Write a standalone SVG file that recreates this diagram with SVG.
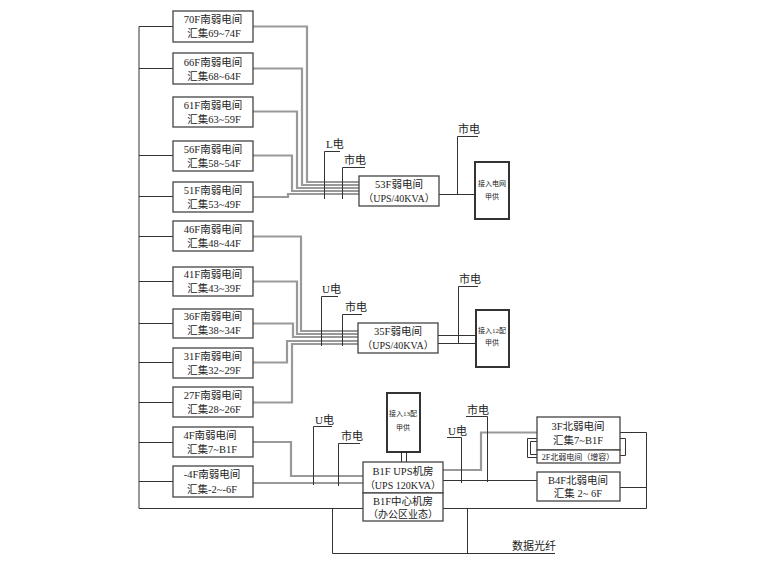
<svg xmlns="http://www.w3.org/2000/svg" width="760" height="570" viewBox="0 0 760 570">
<style>
text{font-family:"Liberation Serif","Noto Sans CJK SC",sans-serif;fill:#222;font-size:10.5px;text-anchor:middle}
.box{fill:#fff;stroke:#444;stroke-width:1.3}
.tbox{fill:#fff;stroke:#333;stroke-width:2}
.ln{fill:none;stroke:#333;stroke-width:1}
.cab{fill:none;stroke:#999;stroke-width:2.2}
.lbl{text-anchor:start;font-size:11px}
.sm{font-size:7px}
.s8{font-size:8px}
.s10{font-size:10px}
</style>
<rect width="760" height="570" fill="#fff"/>
<g id="connectors">
<path class="ln" d="M139,26.5 V508.5 H646.5 V432.5 H620 M646.5,487.5 H620"/>
<path class="ln" d="M139,26.5 H173 M139,68.5 H173 M139,155.5 H173 M139,196.5 H173 M139,236.5 H173 M139,281.5 H173 M139,323.5 H173 M139,362.5 H173 M139,402.5 H173 M139,442.5 H173 M139,481.5 H173"/>
<path class="ln" d="M332.5,508 V553.5 H555 M467.5,508 V553.5"/>
<!-- 53F group cables -->
<path class="cab" d="M253,26.5 H307 V182 H359"/>
<path class="cab" d="M253,68.5 H302 V185 H359"/>
<path class="cab" d="M253,111.5 H297 V188 H359"/>
<path class="cab" d="M253,155.5 H292 V191 H359"/>
<path class="cab" d="M253,197 H288 V194 H359"/>
<path class="ln" d="M340,151.5 H324.5 V199 M365,167.5 H342.5 V199"/>
<path class="ln" d="M439,194.5 H475 M478,136.5 H457.5 V194"/>
<!-- 35F group cables -->
<path class="cab" d="M253,236.5 H301 V331 H358"/>
<path class="cab" d="M253,281.5 H297 V334 H358"/>
<path class="cab" d="M253,323.5 H293 V337 H358"/>
<path class="cab" d="M253,362.5 H287 V341 H358"/>
<path class="cab" d="M253,402.5 H292 V344 H358"/>
<path class="ln" d="M338,296.5 H321.5 V346 M362,314.5 H342.5 V346"/>
<path class="ln" d="M438,335.5 H476 M438,343.5 H476 M478,286.5 H458.5 V343"/>
<!-- B1F group cables -->
<path class="cab" d="M253,442 H291 V476 H363"/>
<path class="cab" d="M253,483 H363"/>
<path class="ln" d="M332,426.5 H313.5 V485 M360,443.5 H338.5 V486"/>
<path class="ln" d="M401.5,452 V462 M406.5,452 V462"/>
<path class="cab" d="M443,470 H481 V432.5 H537"/>
<path class="ln" d="M443,480.5 H537"/>
<path class="ln" d="M466,416.5 H487.5 V482 M447,437.5 H461.5 V483"/>
<path class="ln" d="M537,438.5 H527.5 V457.5 H537 M537,441.5 H530.5 V454.5 H537 M620,455.5 H625.5 V438.5 H620"/>
</g>
<g id="n70"><rect class="box" x="173" y="11" width="80" height="31"/><text x="213" y="23">70F南弱电间</text><text x="214" y="37">汇集69~74F</text></g>
<g id="n66"><rect class="box" x="173" y="53" width="80" height="31"/><text x="213" y="66">66F南弱电间</text><text x="214" y="80">汇集68~64F</text></g>
<g id="n61"><rect class="box" x="173" y="97" width="80" height="30"/><text x="213" y="109">61F南弱电间</text><text x="214" y="123">汇集63~59F</text></g>
<g id="n56"><rect class="box" x="173" y="141" width="80" height="30"/><text x="213" y="153">56F南弱电间</text><text x="214" y="167">汇集58~54F</text></g>
<g id="n51"><rect class="box" x="173" y="182" width="80" height="30"/><text x="213" y="194">51F南弱电间</text><text x="214" y="208">汇集53~49F</text></g>
<g id="n46"><rect class="box" x="173" y="221" width="80" height="30"/><text x="213" y="233">46F南弱电间</text><text x="214" y="247">汇集48~44F</text></g>
<g id="n41"><rect class="box" x="173" y="267" width="80" height="29"/><text x="213" y="278">41F南弱电间</text><text x="214" y="292">汇集43~39F</text></g>
<g id="n36"><rect class="box" x="173" y="309" width="80" height="29"/><text x="213" y="320">36F南弱电间</text><text x="214" y="334">汇集38~34F</text></g>
<g id="n31"><rect class="box" x="173" y="348" width="80" height="30"/><text x="213" y="360">31F南弱电间</text><text x="214" y="374">汇集32~29F</text></g>
<g id="n27"><rect class="box" x="173" y="387" width="80" height="30"/><text x="213" y="399">27F南弱电间</text><text x="214" y="413">汇集28~26F</text></g>
<g id="n4"><rect class="box" x="173" y="427" width="80" height="30"/><text x="210" y="439">4F南弱电间</text><text x="212" y="453">汇集7~B1F</text></g>
<g id="nm4"><rect class="box" x="173" y="466" width="80" height="31"/><text x="212" y="478">-4F南弱电间</text><text x="212" y="493">汇集-2~-6F</text></g>
<g id="ups53"><rect class="box" x="359" y="176" width="80" height="30"/><text x="399" y="188">53F弱电间</text><text class="s10" x="399" y="202">（UPS/40KVA）</text></g>
<g id="ups35"><rect class="box" x="358" y="323" width="80" height="30"/><text x="398" y="335">35F弱电间</text><text class="s10" x="398" y="349">（UPS/40KVA）</text></g>
<g id="src53"><rect class="tbox" x="475" y="162" width="34" height="57"/><text class="sm" x="492" y="186">接入电网</text><text class="sm" x="492" y="199">甲供</text></g>
<g id="src35"><rect class="tbox" x="476" y="310" width="33" height="57"/><text class="sm" x="492" y="333">接入12配</text><text class="sm" x="492" y="345">甲供</text></g>
<g id="srcB1"><rect class="tbox" x="387" y="393" width="33" height="59"/><text class="sm" x="403" y="416">接入13配</text><text class="sm" x="403" y="430">甲供</text></g>
<g id="upsB1"><rect class="box" x="363" y="462" width="80" height="31"/><text x="403" y="475">B1F UPS机房</text><text class="s10" x="403" y="489">（UPS 120KVA）</text></g>
<g id="centerB1"><rect class="box" x="363" y="493" width="80" height="28"/><text x="403" y="505">B1F中心机房</text><text class="s10" x="403" y="518">（办公区业态）</text></g>
<g id="n3F"><rect class="box" x="537" y="417" width="83" height="33"/><rect class="box" x="537" y="450" width="83" height="13"/><text x="578" y="430">3F北弱电间</text><text x="578" y="444">汇集7~B1F</text><text class="s8" x="578" y="460">2F北弱电间（增容）</text></g>
<g id="nB4F"><rect class="box" x="537" y="472" width="83" height="29"/><text x="578" y="484">B4F北弱电间</text><text x="578" y="497">汇集 2~ 6F</text></g>
<g id="labels">
<text class="lbl" x="326" y="148">L电</text>
<text class="lbl" x="344" y="164">市电</text>
<text class="lbl" x="458" y="133">市电</text>
<text class="lbl" x="322" y="293">U电</text>
<text class="lbl" x="345" y="311">市电</text>
<text class="lbl" x="459" y="283">市电</text>
<text class="lbl" x="315" y="424">U电</text>
<text class="lbl" x="341" y="440">市电</text>
<text class="lbl" x="467" y="414">市电</text>
<text class="lbl" x="448" y="435">U电</text>
<text class="lbl" x="512" y="550">数据光纤</text>
</g>
</svg>
